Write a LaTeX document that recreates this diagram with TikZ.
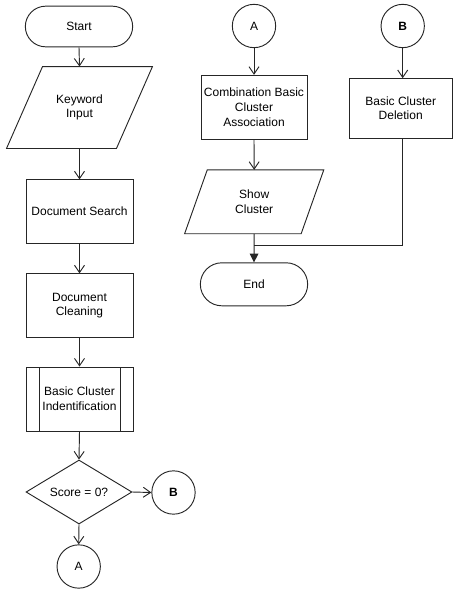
\documentclass[tikz,border=0pt]{standalone}
\usepackage{fontspec}
\setmainfont{Liberation Sans}
\usetikzlibrary{shapes.geometric,shapes.misc,arrows.meta}
\tikzset{
    base/.style={draw=black!85,line width=0.7pt,align=center,font=\fontsize{9}{11}\selectfont,inner sep=0pt},
    term/.style={base,rounded rectangle,minimum width=80.5pt,minimum height=30.5pt},
    proc/.style={base,rectangle,minimum width=80.25pt,minimum height=47.5pt},
    io/.style={base,draw=none,rectangle,append after command={\pgfextra{\let\ionode=\tikzlastnode \draw[draw=black!85,line width=0.7pt] ([xshift=#1]\ionode.north west) -- (\ionode.north east) -- ([xshift=-#1]\ionode.south east) -- (\ionode.south west) -- cycle;}}},
    predproc/.style={proc,path picture={\draw[line width=0.7pt,black!85] ([xshift=9.75pt]path picture bounding box.north west) -- ([xshift=9.75pt]path picture bounding box.south west) ([xshift=-9.75pt]path picture bounding box.north east) -- ([xshift=-9.75pt]path picture bounding box.south east);}},
    decide/.style={base,diamond,aspect=1.66,minimum width=79.5pt,minimum height=48pt},
    conn/.style={base,circle,minimum size=32.5pt},
    flow/.style={draw=black!85,line width=0.7pt,-{Straight Barb[length=5.5pt,width=7.5pt]}},
    joinflow/.style={draw=black!85,line width=0.7pt,-{Triangle[length=6.5pt,width=6.5pt]}}
}
\begin{document}
\begin{tikzpicture}[x=0.75pt,y=-0.75pt]
    \useasboundingbox (0,0) rectangle (453,589);
    \node[term] (start) at (79,26.5) {Start};
    \node[io=27pt,minimum width=108.75pt,minimum height=60.75pt] (keyword) at (79.5,107.5) {Keyword\\Input};
    \node[proc] (search) at (79.5,211.5) {Document Search};
    \node[proc] (clean) at (79.5,305.5) {Document\\Cleaning};
    \node[predproc,minimum height=48pt] (ident) at (79.5,399) {Basic Cluster\\Indentification};
    \node[decide] (score) at (79,492) {Score = 0?};
    \node[conn] (toB) at (173.5,492.5) {\textbf{B}};
    \node[conn] (toA) at (78.7,566.5) {A};
    \node[conn] (fromA) at (254,26) {A};
    \node[conn] (fromB) at (402.7,26) {\textbf{B}};
    \node[proc,minimum width=79.5pt,minimum height=48pt] (assoc) at (254,107.3) {Combination Basic\\Cluster\\Association};
    \node[proc,minimum width=77.25pt,minimum height=44.5pt] (delete) at (400.7,108.3) {Basic Cluster\\Deletion};
    \node[io=17pt,minimum width=103.7pt,minimum height=47.25pt] (show) at (254.2,201.8) {Show\\Cluster};
    \node[term,minimum height=32.25pt] (end) at (254,284.3) {End};
    \coordinate (join) at (254,245);
    \draw[flow] (start.south) -- (keyword.north);
    \draw[flow] (keyword.south) -- (search.north);
    \draw[flow] (search.south) -- (clean.north);
    \draw[flow] (clean.south) -- (ident.north);
    \draw[flow] (ident.south) -- (score.north);
    \draw[flow] (score.east) -- (toB.west);
    \draw[flow] (score.south) -- (toA.north);
    \draw[flow] (fromA.south) -- (assoc.north);
    \draw[flow] (fromB.south) -- (fromB.south |- delete.north);
    \draw[flow] (assoc.south) -- (show.north);
    \draw[draw=black!85,line width=0.7pt] (fromB |- delete.south) |- (join);
    \draw[joinflow] (show.south) -- (end.north);
\end{tikzpicture}
\end{document}
